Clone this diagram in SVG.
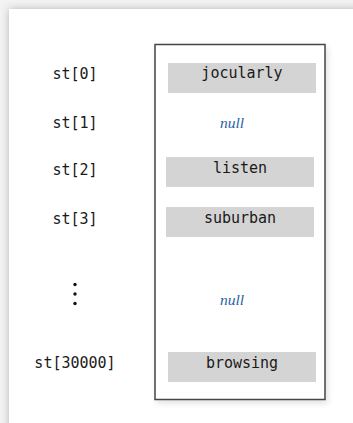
<svg xmlns="http://www.w3.org/2000/svg" width="353" height="423" viewBox="0 0 353 423">
  <defs>
    <filter id="cardShadow" x="-10%" y="-10%" width="130%" height="130%">
      <feGaussianBlur in="SourceAlpha" stdDeviation="4"/>
      <feComponentTransfer><feFuncA type="linear" slope="0.25"/></feComponentTransfer>
      <feMerge><feMergeNode/><feMergeNode in="SourceGraphic"/></feMerge>
    </filter>
    <filter id="boxShadow" x="-10%" y="-10%" width="130%" height="130%">
      <feGaussianBlur in="SourceAlpha" stdDeviation="3"/>
      <feOffset dx="2" dy="3"/>
      <feComponentTransfer><feFuncA type="linear" slope="0.12"/></feComponentTransfer>
      <feMerge><feMergeNode/><feMergeNode in="SourceGraphic"/></feMerge>
    </filter>
    <style>
      .lbl { font-family: "DejaVu Sans Mono", "Liberation Mono", monospace; font-size: 15px; fill: #1a1a1a; text-anchor: middle; }
      .key { font-family: "DejaVu Sans Mono", "Liberation Mono", monospace; font-size: 15px; fill: #1a1a1a; text-anchor: middle; }
      .bar { fill: #d4d4d4; }
      .null { font-family: "Liberation Serif", "Times New Roman", serif; font-style: italic; font-size: 15.5px; fill: #1f62a5; text-anchor: middle; }
      .dot { fill: #111; }
    </style>
  </defs>
  <rect x="0" y="0" width="353" height="423" fill="#f3f3f3"/>
  <rect x="9" y="9" width="360" height="430" fill="#ffffff" filter="url(#cardShadow)"/>

  <g id="labels">
    <text class="lbl" x="75" y="79">st[0]</text>
    <text class="lbl" x="75" y="128">st[1]</text>
    <text class="lbl" x="75" y="175">st[2]</text>
    <text class="lbl" x="75" y="224">st[3]</text>
    <circle class="dot" cx="75" cy="284.5" r="1.7"/>
    <circle class="dot" cx="75" cy="294" r="1.7"/>
    <circle class="dot" cx="75" cy="303.5" r="1.7"/>
    <text class="lbl" x="75" y="368">st[30000]</text>
  </g>

  <g id="array">
    <rect x="155" y="44.5" width="170" height="355" fill="#ffffff" stroke="#444" stroke-width="1.5" filter="url(#boxShadow)"/>
  </g>

  <g id="connectors"></g>

  <g id="entry0">
    <rect class="bar" x="168" y="63" width="148" height="30"/>
    <text class="key" x="242" y="78">jocularly</text>
  </g>
  <g id="entry1">
    <text class="null" x="232" y="127.5">null</text>
  </g>
  <g id="entry2">
    <rect class="bar" x="166" y="157" width="148" height="30"/>
    <text class="key" x="240" y="173">listen</text>
  </g>
  <g id="entry3">
    <rect class="bar" x="166" y="207" width="148" height="30"/>
    <text class="key" x="240" y="223">suburban</text>
  </g>
  <g id="entryNull">
    <text class="null" x="232" y="305">null</text>
  </g>
  <g id="entry30000">
    <rect class="bar" x="168" y="352" width="148" height="30"/>
    <text class="key" x="242" y="368">browsing</text>
  </g>
</svg>
